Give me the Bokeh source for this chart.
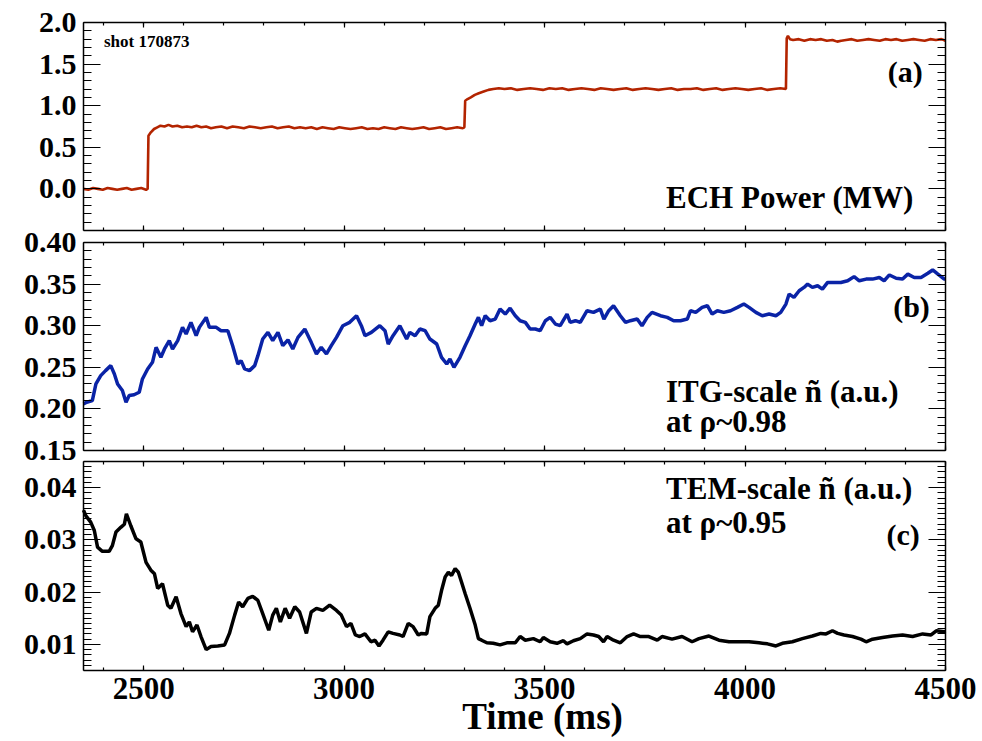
from bokeh.plotting import figure
from bokeh.models import (Range1d, LinearAxis, FixedTicker, PrintfTickFormatter,
                          Label, ColumnDataSource)
from bokeh.embed import file_html
from bokeh.resources import INLINE

# ---------------- data ----------------
ech_time = [2350, 2362, 2374, 2386, 2398, 2410, 2422, 2434, 2446, 2458, 2470, 2482, 2494, 2506, 2510,
            2512, 2518, 2526, 2534, 2542, 2552, 2562, 2572, 2584, 2596, 2608, 2620, 2632, 2644, 2656,
            2668, 2680, 2694, 2708, 2722, 2736, 2750, 2764, 2778, 2792, 2806, 2820, 2834, 2848, 2862,
            2876, 2890, 2904, 2918, 2932, 2946, 2960, 2974, 2988, 3002, 3016, 3030, 3044, 3058, 3072,
            3086, 3100, 3114, 3128, 3142, 3156, 3170, 3184, 3198, 3212, 3226, 3240, 3254, 3268, 3282,
            3296, 3300, 3302, 3308, 3316, 3326, 3336, 3348, 3360, 3372, 3386, 3400, 3416, 3432, 3448,
            3464, 3480, 3496, 3512, 3528, 3544, 3560, 3576, 3592, 3608, 3624, 3640, 3656, 3672, 3688,
            3704, 3720, 3736, 3752, 3768, 3784, 3800, 3816, 3832, 3848, 3864, 3880, 3896, 3912, 3928,
            3944, 3960, 3976, 3992, 4008, 4024, 4040, 4056, 4072, 4088, 4102, 4104, 4107, 4112, 4120,
            4134, 4148, 4162, 4176, 4190, 4204, 4218, 4230, 4240, 4252, 4266, 4280, 4294, 4308, 4322,
            4336, 4350, 4364, 4378, 4392, 4406, 4420, 4434, 4448, 4462, 4476, 4490, 4500]
ech_power = [0.00, -0.01, 0.01, 0.00, -0.01, 0.01, 0.00, -0.01, 0.00, 0.01, -0.01, 0.00, 0.01, -0.01, 0.00,
             0.64, 0.68, 0.72, 0.74, 0.76, 0.75, 0.77, 0.75, 0.76, 0.74, 0.75, 0.74, 0.76, 0.74, 0.75,
             0.73, 0.74, 0.75, 0.73, 0.75, 0.74, 0.73, 0.75, 0.74, 0.73, 0.74, 0.75, 0.73, 0.74, 0.75,
             0.73, 0.74, 0.73, 0.74, 0.72, 0.74, 0.73, 0.72, 0.74, 0.73, 0.72, 0.73, 0.74, 0.72, 0.73,
             0.72, 0.74, 0.73, 0.72, 0.74, 0.73, 0.72, 0.73, 0.74, 0.72, 0.73, 0.74, 0.72, 0.73, 0.74,
             0.73, 0.74, 1.06, 1.08, 1.10, 1.13, 1.15, 1.17, 1.19, 1.20, 1.21, 1.20, 1.21, 1.19, 1.20,
             1.21, 1.20, 1.19, 1.21, 1.20, 1.21, 1.19, 1.20, 1.21, 1.20, 1.19, 1.21, 1.20, 1.19, 1.20,
             1.21, 1.19, 1.20, 1.21, 1.20, 1.19, 1.20, 1.21, 1.19, 1.20, 1.20, 1.21, 1.19, 1.20, 1.21,
             1.19, 1.20, 1.21, 1.20, 1.19, 1.20, 1.21, 1.19, 1.20, 1.21, 1.20, 1.81, 1.84, 1.80, 1.79,
             1.80, 1.78, 1.80, 1.79, 1.80, 1.78, 1.79, 1.77, 1.78, 1.79, 1.80, 1.78, 1.79, 1.80, 1.79,
             1.78, 1.80, 1.79, 1.80, 1.78, 1.79, 1.80, 1.79, 1.78, 1.80, 1.79, 1.80, 1.78]

itg_time = [2350, 2358, 2372, 2381, 2393, 2405, 2418, 2427, 2435, 2447, 2456, 2464, 2476, 2489, 2497,
            2510, 2522, 2531, 2543, 2552, 2564, 2572, 2585, 2597, 2606, 2618, 2631, 2639, 2656, 2664,
            2681, 2693, 2710, 2722, 2735, 2743, 2752, 2764, 2777, 2785, 2797, 2810, 2822, 2835, 2847,
            2860, 2872, 2885, 2902, 2918, 2931, 2943, 2956, 2968, 2981, 2997, 3014, 3031, 3043, 3052,
            3068, 3089, 3102, 3110, 3122, 3139, 3156, 3164, 3177, 3189, 3202, 3214, 3231, 3243, 3256,
            3264, 3274, 3289, 3302, 3314, 3327, 3335, 3343, 3352, 3364, 3377, 3389, 3402, 3414, 3427,
            3439, 3452, 3464, 3477, 3489, 3502, 3514, 3527, 3539, 3556, 3564, 3577, 3589, 3606, 3622,
            3639, 3648, 3660, 3672, 3689, 3702, 3714, 3731, 3743, 3756, 3768, 3789, 3806, 3822, 3839,
            3856, 3864, 3877, 3893, 3906, 3918, 3931, 3947, 3964, 3981, 3997, 4010, 4027, 4043, 4060,
            4077, 4089, 4102, 4110, 4122, 4135, 4147, 4156, 4168, 4181, 4193, 4206, 4222, 4239, 4256,
            4272, 4285, 4302, 4318, 4335, 4347, 4360, 4377, 4393, 4406, 4422, 4439, 4456, 4468, 4481,
            4497, 4500]
itg_level = [0.206, 0.208, 0.210, 0.230, 0.240, 0.246, 0.252, 0.242, 0.230, 0.222, 0.208, 0.216, 0.217, 0.220, 0.236,
             0.248, 0.256, 0.274, 0.262, 0.272, 0.282, 0.272, 0.282, 0.298, 0.290, 0.304, 0.288, 0.298, 0.310, 0.298,
             0.298, 0.294, 0.294, 0.276, 0.254, 0.258, 0.248, 0.246, 0.252, 0.264, 0.284, 0.292, 0.282, 0.292, 0.276,
             0.283, 0.272, 0.286, 0.296, 0.280, 0.266, 0.274, 0.266, 0.276, 0.286, 0.300, 0.304, 0.312, 0.300, 0.288,
             0.292, 0.300, 0.294, 0.278, 0.288, 0.300, 0.284, 0.292, 0.288, 0.296, 0.294, 0.284, 0.278, 0.262, 0.254,
             0.260, 0.250, 0.262, 0.276, 0.288, 0.302, 0.310, 0.300, 0.312, 0.306, 0.308, 0.320, 0.314, 0.321, 0.312,
             0.306, 0.304, 0.296, 0.296, 0.294, 0.306, 0.310, 0.302, 0.300, 0.314, 0.304, 0.306, 0.304, 0.318, 0.316,
             0.320, 0.308, 0.318, 0.324, 0.312, 0.304, 0.306, 0.308, 0.300, 0.310, 0.316, 0.312, 0.310, 0.306, 0.306,
             0.308, 0.318, 0.316, 0.322, 0.324, 0.314, 0.318, 0.316, 0.318, 0.322, 0.326, 0.322, 0.316, 0.312, 0.314,
             0.312, 0.316, 0.326, 0.338, 0.334, 0.342, 0.346, 0.350, 0.346, 0.348, 0.344, 0.352, 0.352, 0.352, 0.354,
             0.359, 0.354, 0.356, 0.356, 0.358, 0.354, 0.361, 0.357, 0.356, 0.362, 0.358, 0.358, 0.363, 0.367, 0.362,
             0.356, 0.356]

tem_time = [2350, 2356, 2368, 2377, 2385, 2397, 2414, 2422, 2431, 2443, 2452, 2457, 2468, 2481, 2493,
            2506, 2518, 2527, 2535, 2547, 2560, 2568, 2581, 2593, 2606, 2614, 2622, 2633, 2643, 2656,
            2668, 2685, 2702, 2714, 2727, 2737, 2747, 2760, 2772, 2785, 2797, 2812, 2822, 2831, 2841,
            2853, 2864, 2877, 2889, 2906, 2918, 2931, 2947, 2964, 2981, 2993, 3006, 3017, 3028, 3039,
            3052, 3067, 3077, 3087, 3097, 3110, 3122, 3139, 3147, 3160, 3172, 3185, 3193, 3206, 3214,
            3227, 3235, 3243, 3252, 3260, 3268, 3277, 3285, 3293, 3302, 3314, 3327, 3335, 3343, 3356,
            3372, 3389, 3406, 3427, 3439, 3452, 3472, 3489, 3497, 3514, 3531, 3547, 3556, 3572, 3589,
            3606, 3622, 3635, 3647, 3656, 3672, 3689, 3706, 3722, 3739, 3760, 3781, 3793, 3818, 3843,
            3868, 3885, 3910, 3935, 3960, 3985, 4010, 4035, 4056, 4077, 4093, 4118, 4143, 4168, 4189,
            4202, 4218, 4231, 4247, 4268, 4289, 4302, 4318, 4343, 4368, 4393, 4418, 4443, 4464, 4477,
            4497, 4500]
tem_level = [0.0357, 0.0346, 0.0334, 0.0318, 0.0286, 0.0278, 0.0278, 0.0289, 0.0315, 0.0324, 0.0330, 0.0350, 0.0327, 0.0302, 0.0296,
             0.0257, 0.0242, 0.0235, 0.0207, 0.0216, 0.0175, 0.0169, 0.0191, 0.0159, 0.0134, 0.0143, 0.0124, 0.0137, 0.0115, 0.0090,
             0.0096, 0.0097, 0.0099, 0.0121, 0.0156, 0.0181, 0.0172, 0.0188, 0.0192, 0.0184, 0.0159, 0.0127, 0.0156, 0.0169, 0.0143,
             0.0169, 0.0150, 0.0172, 0.0162, 0.0121, 0.0162, 0.0169, 0.0165, 0.0175, 0.0165, 0.0156, 0.0134, 0.0140, 0.0118, 0.0115,
             0.0120, 0.0105, 0.0108, 0.0097, 0.0108, 0.0124, 0.0121, 0.0118, 0.0115, 0.0140, 0.0134, 0.0118, 0.0121, 0.0120, 0.0153,
             0.0169, 0.0175, 0.0203, 0.0229, 0.0238, 0.0232, 0.0245, 0.0238, 0.0219, 0.0197, 0.0169, 0.0137, 0.0111, 0.0108, 0.0103,
             0.0102, 0.0099, 0.0103, 0.0103, 0.0115, 0.0108, 0.0111, 0.0105, 0.0113, 0.0105, 0.0102, 0.0107, 0.0101, 0.0107, 0.0111,
             0.0120, 0.0118, 0.0115, 0.0105, 0.0115, 0.0108, 0.0103, 0.0115, 0.0120, 0.0115, 0.0115, 0.0108, 0.0115, 0.0110, 0.0115,
             0.0105, 0.0111, 0.0116, 0.0108, 0.0105, 0.0105, 0.0105, 0.0103, 0.0101, 0.0097, 0.0102, 0.0105, 0.0111, 0.0116, 0.0121,
             0.0120, 0.0126, 0.0121, 0.0118, 0.0115, 0.0110, 0.0105, 0.0110, 0.0113, 0.0116, 0.0118, 0.0115, 0.0120, 0.0118, 0.0126,
             0.0124, 0.0125]

x_ticks = [2500, 3000, 3500, 4000, 4500]
x_minor = [2400 + 100 * i for i in range(22)]
a_ticks = [0.0, 0.5, 1.0, 1.5, 2.0]
a_minor = [round(-0.5 + 0.1 * i, 2) for i in range(26)]
b_ticks = [0.15, 0.20, 0.25, 0.30, 0.35, 0.40]
b_minor = [round(0.15 + 0.01 * i, 3) for i in range(26)]
c_ticks = [0.01, 0.02, 0.03, 0.04]
c_minor = [round(0.005 + 0.001 * i, 4) for i in range(41)]

FONT = "Liberation Serif"
X0, X1 = 2350, 4500

# page geometry (pixels): the frame fills the whole canvas; panel boxes sit inside it
W, H = 982, 741
BOX_L, BOX_R = 83, 945
panels = {
    "a": dict(lo=-0.5, hi=2.0, top=22, bot=230, ticks=a_ticks, minor=a_minor, fmt="%.1f"),
    "b": dict(lo=0.15, hi=0.40, top=242, bot=450, ticks=b_ticks, minor=b_minor, fmt="%.2f"),
    "c": dict(lo=0.005, hi=0.045, top=461, bot=670, ticks=c_ticks, minor=c_minor, fmt="%.2f"),
}

xs = (X1 - X0) / (BOX_R - BOX_L)
p = figure(x_range=Range1d(X0 - BOX_L * xs, X1 + (W - BOX_R) * xs), y_range=Range1d(0, 1),
           frame_width=W, frame_height=H,
           min_border_left=0, min_border_right=0, min_border_top=0, min_border_bottom=0,
           output_backend="svg", toolbar_location=None,
           x_axis_location=None, y_axis_location=None,
           background_fill_color="white", border_fill_color="white")
p.xgrid.visible = False
p.ygrid.visible = False
p.outline_line_color = None

for name, d in panels.items():
    ys = (d["hi"] - d["lo"]) / (d["bot"] - d["top"])
    p.extra_y_ranges[name] = Range1d(d["lo"] - (H - d["bot"]) * ys, d["hi"] + d["top"] * ys)


def style_axis(ax, horizontal, show_labels, fmt, label_size="30px"):
    ax.axis_line_color = "black"
    ax.axis_line_width = 1.5
    ax.major_tick_line_color = "black"
    ax.minor_tick_line_color = "black"
    ax.major_tick_line_width = 1.2
    ax.minor_tick_line_width = 1.2
    ax.major_tick_out = 0
    ax.minor_tick_out = 0
    if horizontal:
        ax.major_tick_in = 5
        ax.minor_tick_in = 3
    else:
        ax.major_tick_in = 17
        ax.minor_tick_in = 8
    ax.major_label_text_font = FONT
    ax.major_label_text_font_style = "bold"
    ax.major_label_text_color = "black"
    if show_labels:
        ax.major_label_text_font_size = label_size
        ax.major_label_standoff = 7 if not horizontal else 7
        ax.formatter = PrintfTickFormatter(format=fmt)
    else:
        ax.major_label_text_font_size = "0px"
        ax.major_label_standoff = 0
        ax.formatter = PrintfTickFormatter(format="")


for name, d in panels.items():
    yt = FixedTicker(ticks=d["ticks"], minor_ticks=d["minor"])
    xt = FixedTicker(ticks=x_ticks, minor_ticks=x_minor)
    left = LinearAxis(ticker=yt, y_range_name=name, fixed_location=X0, bounds=(d["lo"], d["hi"]))
    style_axis(left, False, True, d["fmt"])
    right = LinearAxis(ticker=yt, y_range_name=name, fixed_location=X1, bounds=(d["lo"], d["hi"]))
    style_axis(right, False, False, d["fmt"])
    above = LinearAxis(ticker=xt, y_range_name=name, fixed_location=d["hi"], bounds=(X0, X1))
    style_axis(above, True, False, "%d")
    below = LinearAxis(ticker=xt, y_range_name=name, fixed_location=d["lo"], bounds=(X0, X1))
    style_axis(below, True, name == "c", "%d", "31px")
    p.add_layout(left, "left")
    p.add_layout(right, "right")
    p.add_layout(above, "above")
    p.add_layout(below, "below")


def add_text(rng, x, y, txt, size="31px", align="left"):
    p.add_layout(Label(x=x, y=y, y_range_name=rng, text=txt, text_font=FONT,
                       text_font_style="bold", text_font_size=size, text_color="black",
                       text_align=align, text_baseline="middle"))


# Panel (a): ECH power
p.line(x="t", y="v", source=ColumnDataSource(dict(t=ech_time, v=ech_power)),
       y_range_name="a", line_color="#b32400", line_width=2.6)
add_text("a", 2401, 1.772, "shot 170873", size="17px")
add_text("a", 4443, 1.411, "(a)", size="30px", align="right")
add_text("a", 3803, -0.10, "ECH Power (MW)")

# Panel (b): ITG-scale fluctuation
p.line(x="t", y="v", source=ColumnDataSource(dict(t=itg_time, v=itg_level)),
       y_range_name="b", line_color="#0a23a6", line_width=3.5)
add_text("b", 4461, 0.3231, "(b)", size="30px", align="right")
add_text("b", 3803, 0.2204, "ITG-scale ñ (a.u.)")
add_text("b", 3803, 0.1852, "at ρ~0.98")

# Panel (c): TEM-scale fluctuation
p.line(x="t", y="v", source=ColumnDataSource(dict(t=tem_time, v=tem_level)),
       y_range_name="c", line_color="black", line_width=3.5)
add_text("c", 4436, 0.0310, "(c)", size="30px", align="right")
add_text("c", 3803, 0.0399, "TEM-scale ñ (a.u.)")
add_text("c", 3803, 0.03325, "at ρ~0.95")

# x-axis title under the bottom panel
add_text("c", 3495, -0.0038, "Time (ms)", size="37px", align="center")

with open("out.html", "w", encoding="utf-8") as f:
    f.write(file_html(p, INLINE))
